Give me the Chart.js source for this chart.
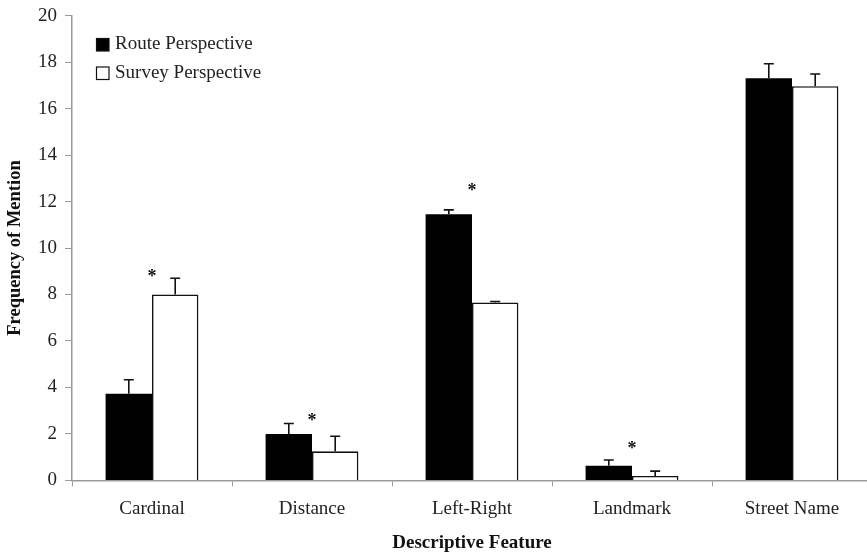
<!DOCTYPE html>
<html>
<head>
<meta charset="utf-8">
<script src="https://cdn.jsdelivr.net/npm/chart.js@4"></script>
<style>
  html, body { margin: 0; padding: 0; background: #fff; overflow: hidden; }
  #wrap { position: absolute; left: 0; top: 0; width: 880px; height: 554px; }
</style>
</head>
<body>
<div id="wrap"><canvas id="freq_chart"></canvas></div>
<script>
// values
const categories = ["Cardinal", "Distance", "Left-Right", "Landmark", "Street Name"]
const routeValues = [3.73, 2.0, 11.45, 0.63, 17.3]
const routeErrors = [0.6, 0.45, 0.19, 0.25, 0.63]
const surveyValues = [8.0, 1.25, 7.66, 0.19, 16.96]
const surveyErrors = [0.7, 0.65, 0.04, 0.21, 0.53]
// height of the significance star above each group (null = none)
const starValues = [8.9, 2.7, 12.6, 1.5, null]
const yTicks = [0, 2, 4, 6, 8, 10, 12, 14, 16, 18, 20]

const serif = "'Liberation Serif', 'Times New Roman', serif"
const axisGrey = "#9a9a9a"

// error bars (upper half only) and stars
const errorBars = {
    id: "errorBars",
    afterDatasetsDraw(chart) {
        const ctx = chart.ctx
        const y = chart.scales.y
        const x = chart.scales.x
        ctx.save()
        ctx.strokeStyle = "#111"
        ctx.lineWidth = 1.6
        chart.data.datasets.forEach((ds, i) => {
            const meta = chart.getDatasetMeta(i)
            meta.data.forEach((bar, j) => {
                const top = y.getPixelForValue(ds.data[j] + ds.errors[j])
                ctx.beginPath()
                ctx.moveTo(bar.x, bar.y)
                ctx.lineTo(bar.x, top)
                ctx.moveTo(bar.x - 5, top)
                ctx.lineTo(bar.x + 5, top)
                ctx.stroke()
            })
        })
        ctx.fillStyle = "#111"
        ctx.font = "bold 18px " + serif
        ctx.textAlign = "center"
        ctx.textBaseline = "middle"
        starValues.forEach((v, j) => {
            if (v === null) return
            ctx.fillText("*", x.getPixelForValue(j), y.getPixelForValue(v) + 4)
        })
        ctx.restore()
    }
}

// legend sitting inside the plot, top left
const innerLegend = {
    id: "innerLegend",
    afterDraw(chart) {
        const ctx = chart.ctx
        const left = chart.chartArea.left + 24
        ctx.save()
        ctx.font = "19px " + serif
        ctx.textBaseline = "middle"
        chart.data.datasets.forEach((ds, i) => {
            const cy = 44.5 + i * 28.5
            ctx.fillStyle = ds.backgroundColor
            ctx.fillRect(left, cy - 6.5, 13, 13)
            ctx.strokeStyle = "#111"
            ctx.lineWidth = 1.2
            ctx.strokeRect(left + 0.5, cy - 6, 12.5, 12.5)
            ctx.fillStyle = "#222"
            ctx.fillText(ds.label, left + 19, cy)
        })
        ctx.restore()
    }
}

new Chart("freq_chart", {
    type: "bar",
    data: {
        labels: categories,
        datasets: [{
            label: "Route Perspective",
            data: routeValues,
            errors: routeErrors,
            backgroundColor: "#000",
            borderColor: "#000",
            borderWidth: 0
        }, {
            label: "Survey Perspective",
            data: surveyValues,
            errors: surveyErrors,
            backgroundColor: "#fff",
            borderColor: "#111",
            borderWidth: 1.6
        }]
    },
    options: {
        responsive: true,
        maintainAspectRatio: false,
        animation: false,
        layout: { padding: { top: 0, right: 8, bottom: 0, left: 0 } },
        datasets: { bar: { categoryPercentage: 0.58, barPercentage: 1.0 } },
        plugins: {
            legend: { display: false },
            tooltip: { enabled: false }
        },
        scales: {
            x: {
                grid: { drawOnChartArea: false, tickLength: 6, color: axisGrey, lineWidth: 1 },
                border: { color: axisGrey, width: 1.5 },
                ticks: { color: "#222", padding: 11, font: { family: serif, size: 19 } },
                title: {
                    display: true,
                    text: "Descriptive Feature",
                    color: "#111",
                    padding: { top: 0, bottom: 0 },
                    font: { family: serif, size: 19, weight: "bold" }
                }
            },
            y: {
                min: 0,
                max: 20,
                afterBuildTicks(scale) { scale.ticks = yTicks.map(v => ({ value: v })) },
                afterFit(scale) { scale.width = 72 },
                grid: { drawOnChartArea: false, tickLength: 7, color: axisGrey, lineWidth: 1 },
                border: { color: axisGrey, width: 1.5 },
                ticks: { color: "#222", padding: 8, font: { family: serif, size: 19, lineHeight: 0.8 } },
                title: {
                    display: true,
                    text: "Frequency of Mention",
                    color: "#111",
                    padding: { top: 4, bottom: 2 },
                    font: { family: serif, size: 18.5, weight: "bold" }
                }
            }
        }
    },
    plugins: [errorBars, innerLegend]
})
</script>
</body>
</html>
